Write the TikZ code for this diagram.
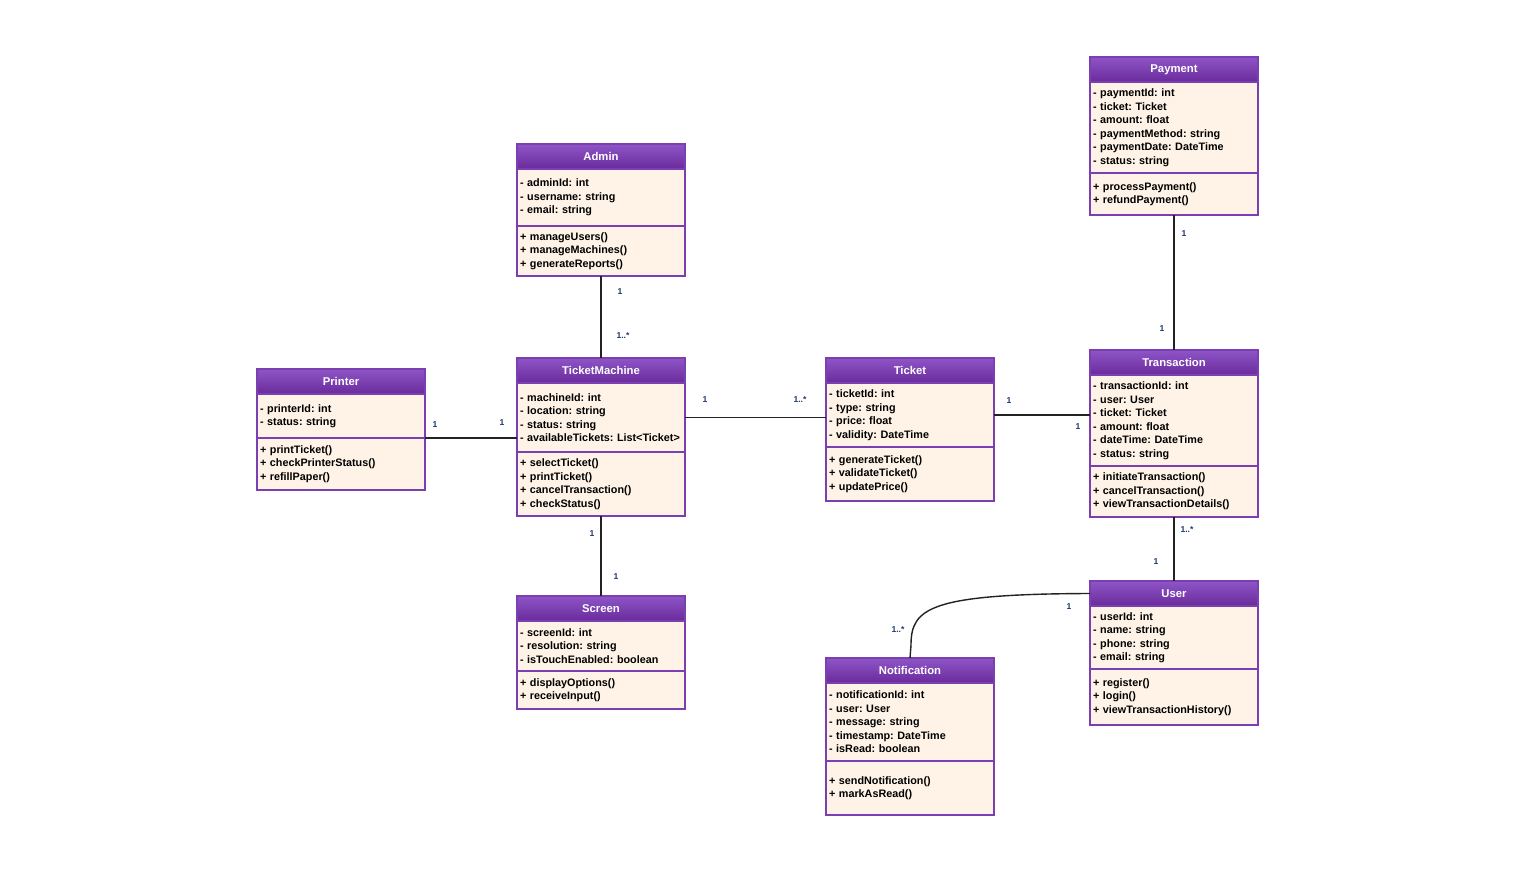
\documentclass[tikz,border=0pt]{standalone}
\usepackage{fontspec}
\setmainfont{Liberation Sans}
\definecolor{hdrtop}{HTML}{8E55C6}
\definecolor{hdrbot}{HTML}{6A2B9C}
\definecolor{bord}{HTML}{7B3FB2}
\definecolor{bodyfill}{HTML}{FEF3E6}
\definecolor{lbl}{HTML}{1F3A6E}
\definecolor{conn}{HTML}{222222}
\newcommand\umlclass[9]{%
  \node[hdr, minimum height=#5] (#1-h) at (#2,#3) {#4};
  \node[sec, minimum height=#6] (#1-a) at (#1-h.south west) {#7};
  \node[sec, minimum height=#8] (#1-m) at (#1-a.south west) {#9};
}
\begin{document}
\frenchspacing
\begin{tikzpicture}[x=1pt,y=-1pt,
  hdr/.style={draw=bord, line width=1.3pt, top color=hdrtop, bottom color=hdrbot,
    text=white, font=\fontsize{11.3}{13}\selectfont\bfseries, minimum width=168pt,
    inner sep=0pt, outer sep=0pt, anchor=north west},
  sec/.style={draw=bord, line width=1.3pt, fill=bodyfill, text width=162pt, align=left,
    inner xsep=3pt, inner ysep=0pt, outer sep=0pt, anchor=north west,
    font=\fontsize{10.8}{13.5}\selectfont\bfseries\frenchspacing},
  lab/.style={font=\fontsize{8.6}{9}\selectfont\bfseries, text=lbl, inner sep=1pt},
  link/.style={draw=conn, line width=1.4pt}]
\useasboundingbox (0,0) rectangle (1516,872);

\umlclass{admin}{517}{144}{Admin}{25}{57}{- adminId: int\\- username: string\\- email: string}{50}{+ manageUsers()\\+ manageMachines()\\+ generateReports()}
\umlclass{tm}{517}{358}{TicketMachine}{25}{69}{- machineId: int\\- location: string\\- status: string\\- availableTickets: List<Ticket>}{64}{+ selectTicket()\\+ printTicket()\\+ cancelTransaction()\\+ checkStatus()}
\umlclass{printer}{257}{369}{Printer}{25}{44}{- printerId: int\\- status: string}{52}{+ printTicket()\\+ checkPrinterStatus()\\+ refillPaper()}
\umlclass{screen}{517}{596}{Screen}{25}{50}{- screenId: int\\- resolution: string\\- isTouchEnabled: boolean}{38}{+ displayOptions()\\+ receiveInput()}
\umlclass{ticket}{826}{358}{Ticket}{25}{64}{- ticketId: int\\- type: string\\- price: float\\- validity: DateTime}{54}{+ generateTicket()\\+ validateTicket()\\+ updatePrice()}
\umlclass{payment}{1090}{57}{Payment}{25}{91}{- paymentId: int\\- ticket: Ticket\\- amount: float\\- paymentMethod: string\\- paymentDate: DateTime\\- status: string}{42}{+ processPayment()\\+ refundPayment()}
\umlclass{trans}{1090}{350}{Transaction}{25}{91}{- transactionId: int\\- user: User\\- ticket: Ticket\\- amount: float\\- dateTime: DateTime\\- status: string}{51}{+ initiateTransaction()\\+ cancelTransaction()\\+ viewTransactionDetails()}
\umlclass{user}{1090}{581}{User}{25}{63}{- userId: int\\- name: string\\- phone: string\\- email: string}{56}{+ register()\\+ login()\\+ viewTransactionHistory()}
\umlclass{notif}{826}{658}{Notification}{25}{78}{- notificationId: int\\- user: User\\- message: string\\- timestamp: DateTime\\- isRead: boolean}{54}{+ sendNotification()\\+ markAsRead()}

% connectors
\draw[link] (admin-m.south) -- (tm-h.north);
\draw[link] (printer-a.south east) -- (printer-a.south east -| tm-a.west);
\draw[link] (tm-m.south) -- (screen-h.north);
\draw[link] (tm-a.east) -- (tm-a.east -| ticket-a.west);
\draw[link] (ticket-a.east) -- (ticket-a.east -| trans-a.west);
\draw[link] (payment-m.south) -- (trans-h.north);
\draw[link] (trans-m.south) -- (user-h.north);
\draw[link] (user-h.west) .. controls (930,594) and (911,608) .. (911,645) -- (notif-h.north);

% multiplicities
\node[lab] (l1) at (620,292) {1};
\node[lab] (l2) at (623,336) {1..*};
\node[lab] (l3) at (435,425) {1};
\node[lab] (l4) at (502,423) {1};
\node[lab] (l5) at (592,534) {1};
\node[lab] (l6) at (616,577) {1};
\node[lab] (l7) at (705,400) {1};
\node[lab] (l8) at (800,400) {1..*};
\node[lab] (l9) at (1009,401) {1};
\node[lab] (l10) at (1078,427) {1};
\node[lab] (l11) at (1184,234) {1};
\node[lab] (l12) at (1162,329) {1};
\node[lab] (l13) at (1187,530) {1..*};
\node[lab] (l14) at (1156,562) {1};
\node[lab] (l15) at (1069,607) {1};
\node[lab] (l16) at (898,630) {1..*};
\end{tikzpicture}
\end{document}
